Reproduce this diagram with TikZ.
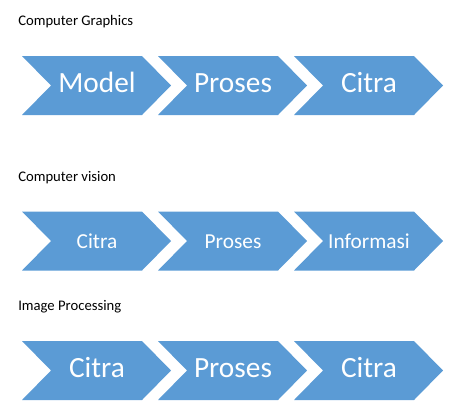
\documentclass[tikz,border=0pt]{standalone}
\usepackage{fontspec}
\setmainfont{Carlito}
\usepackage{xcolor}
\usetikzlibrary{positioning}
\definecolor{chevblue}{RGB}{91,155,213}

\begin{document}
\begin{tikzpicture}[x=0.75pt,y=-0.75pt]
    \tikzstyle{chev} = [fill=chevblue, draw=none]
    \tikzstyle{title} = [anchor=base west, inner sep=0pt, font=\fontsize{11}{13}\selectfont]
    \tikzstyle{word} = [anchor=base, inner sep=0pt, text=white]
    \useasboundingbox (0,0) rectangle (467,412);
    \node[title] (cg) at (18,25) {Computer Graphics};
    \node[title] (cv) at (18,181) {Computer vision};
    \node[title] (ip) at (18,310) {Image Processing};
    \foreach \r/\y/\s/\ta/\tb/\tc in {1/56/22/Model/Proses/Citra, 2/211.5/16/Citra/Proses/Informasi, 3/341/22/Citra/Proses/Citra}
      \foreach \i/\x/\t in {1/22/\ta, 2/158/\tb, 3/294/\tc}
      {\fill[chev] (\x,\y) -- ++(120,0) -- ++(29,29.5) -- ++(-29,29.5) -- ++(-120,0) -- ++(29,-29.5) -- cycle;
       \node[word, font=\fontsize{\s}{\s}\selectfont] (r\r c\i) at (\x+75,\y+36.7) {\t};
      }
\end{tikzpicture}
\end{document}
